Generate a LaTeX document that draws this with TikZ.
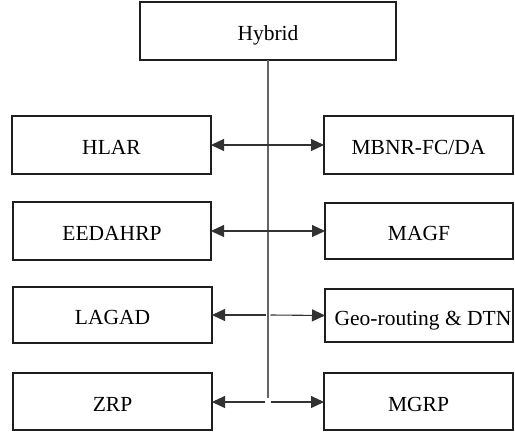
\documentclass[tikz,border=0pt]{standalone}
\usepackage{fontspec}
\setmainfont{Liberation Serif}
\usetikzlibrary{arrows.meta}

\tikzset{every picture/.style={line width=0.75pt}}
\tikzset{
	protobox/.style={draw={rgb, 255:red, 30; green, 30; blue, 30 }, line width=1.3pt, inner sep=0.75pt, outer sep=0pt, align=center, text height=19pt, text depth=0pt, font=\fontsize{21.5}{25}\selectfont},
	link/.style={draw={rgb, 255:red, 50; green, 50; blue, 50 }, line width=1.1pt},
	trunk/.style={draw={rgb, 255:red, 100; green, 100; blue, 100 }, line width=1.4pt},
	tip/.style={-{Triangle[length=13pt,width=12pt]}}
}

\begin{document}
\begin{tikzpicture}[x=1pt,y=1pt,yscale=-1,xscale=1]
				\useasboundingbox (0,0) rectangle (515,434);
				
				% Text Node
				\node [protobox, minimum width=256, minimum height=58] (hyb) at (268,31) {Hybrid};
				% Text Node
				\node [protobox, minimum width=199, minimum height=58] (hlar) at (111.5,145) {HLAR};
				% Text Node
				\node [protobox, minimum width=189, minimum height=58] (mbnr) at (418.5,145) {MBNR-FC/DA};
				% Text Node
				\node [protobox, minimum width=198, minimum height=58] (eed) at (112,231) {EEDAHRP};
				% Text Node
				\node [protobox, minimum width=188, minimum height=56] (magf) at (419,231) {MAGF};
				% Text Node
				\node [protobox, minimum width=199, minimum height=56] (lagad) at (112.5,315) {LAGAD};
				% Text Node
				\node [protobox, minimum width=188, minimum height=53] (geo) at (419,315.5) {\hspace{8pt}Geo-routing \& DTN};
				% Text Node
				\node [protobox, minimum width=199, minimum height=57] (zrp) at (112.5,401.5) {ZRP};
				% Text Node
				\node [protobox, minimum width=189, minimum height=57] (mgrp) at (418.5,401.5) {MGRP};
				
				%Junctions
				\coordinate (j1) at (268,145);
				\coordinate (j2) at (268,231);
				\coordinate (j3l) at (265.5,315);
				\coordinate (j3r) at (270.5,315);
				\coordinate (j4l) at (265,402);
				\coordinate (j4r) at (271,402);
				\coordinate (bot) at (268,398);
				
				%Straight Lines 
				\draw [trunk] (hyb.south) -- (bot) ;
				%Straight Lines 
				\draw [link, tip] (j1) -- (hlar.east) ;
				\draw [link, tip] (j1) -- (mbnr.west) ;
				%Straight Lines 
				\draw [link, tip] (j2) -- (eed.east) ;
				\draw [link, tip] (j2) -- (magf.west) ;
				%Straight Lines 
				\draw [link, tip] (j3l) -- (lagad.east) ;
				\draw [link, tip] (j3r) -- (geo.west) ;
				%Straight Lines 
				\draw [link, tip] (j4l) -- (zrp.east |- j4l) ;
				\draw [link, tip] (j4r) -- (mgrp.west |- j4r) ;
				
			\end{tikzpicture}
\end{document}
